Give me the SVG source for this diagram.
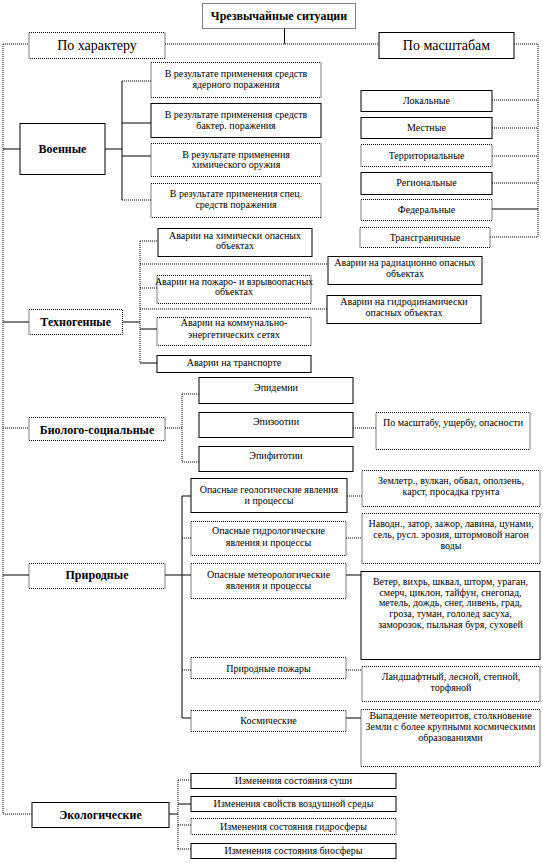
<svg xmlns="http://www.w3.org/2000/svg" width="543" height="863" viewBox="0 0 543 863" font-family="'Liberation Serif', 'Times New Roman', serif">
<style>
text{font-family:"Liberation Serif","Times New Roman",serif;fill:#000;text-anchor:middle}
.t{font-size:10px}
.b{font-size:12px;font-weight:bold}
.h{font-size:14px}
rect{fill:#fff;stroke:#000;stroke-width:1}
rect.d{stroke-dasharray:1 1}
.c line{stroke:#000;stroke-width:1}
.c line.d{stroke-dasharray:1 1}
</style>
<rect x="0" y="0" width="543" height="863" style="stroke:none;fill:#fff"/>
<g class="c" id="connectors">
<line x1="284.5" y1="28" x2="284.5" y2="44"/>
<line class="d" x1="165" y1="44" x2="379" y2="44"/>
<line class="d" x1="3" y1="44" x2="29" y2="44"/>
<line class="d" x1="3" y1="44" x2="3" y2="814"/>
<line class="d" x1="514" y1="44" x2="538" y2="44"/>
<line class="d" x1="538" y1="44" x2="538" y2="237"/>
<line class="d" x1="492" y1="100" x2="538" y2="100"/>
<line class="d" x1="492" y1="128" x2="538" y2="128"/>
<line class="d" x1="492" y1="156" x2="538" y2="156"/>
<line class="d" x1="492" y1="183" x2="538" y2="183"/>
<line x1="492" y1="209" x2="538" y2="209"/>
<line class="d" x1="490" y1="237" x2="538" y2="237"/>
<line x1="3" y1="149" x2="20" y2="149"/>
<line x1="105" y1="149" x2="122" y2="149"/>
<line x1="122" y1="81" x2="122" y2="200"/>
<line class="d" x1="122" y1="81" x2="151" y2="81"/>
<line x1="122" y1="123" x2="151" y2="123"/>
<line x1="122" y1="156" x2="151" y2="156"/>
<line class="d" x1="122" y1="200" x2="151" y2="200"/>
<line x1="3" y1="322" x2="29" y2="322"/>
<line x1="122.5" y1="322" x2="140" y2="322"/>
<line class="d" x1="140" y1="241" x2="140" y2="363"/>
<line class="d" x1="140" y1="241" x2="158" y2="241"/>
<line class="d" x1="140" y1="264" x2="328" y2="264"/>
<line class="d" x1="140" y1="288" x2="157" y2="288"/>
<line class="d" x1="140" y1="309" x2="327" y2="309"/>
<line x1="140" y1="329" x2="157" y2="329"/>
<line x1="140" y1="363" x2="157" y2="363"/>
<line class="d" x1="3" y1="428" x2="29" y2="428"/>
<line class="d" x1="165" y1="428" x2="182" y2="428"/>
<line class="d" x1="182" y1="394" x2="182" y2="462"/>
<line class="d" x1="182" y1="394" x2="199" y2="394"/>
<line class="d" x1="182" y1="462" x2="199" y2="462"/>
<line class="d" x1="353" y1="428" x2="376" y2="428"/>
<line x1="3" y1="575" x2="29" y2="575"/>
<line x1="165" y1="575" x2="191" y2="575"/>
<line x1="182" y1="496" x2="182" y2="718"/>
<line x1="182" y1="496" x2="191" y2="496"/>
<line class="d" x1="182" y1="538" x2="191" y2="538"/>
<line class="d" x1="182" y1="670" x2="191" y2="670"/>
<line x1="182" y1="718" x2="191" y2="718"/>
<line class="d" x1="347" y1="496" x2="362" y2="496"/>
<line class="d" x1="346" y1="538" x2="362" y2="538"/>
<line x1="346" y1="575" x2="361" y2="575"/>
<line class="d" x1="346" y1="670" x2="362" y2="670"/>
<line x1="346" y1="718" x2="361" y2="718"/>
<line class="d" x1="3" y1="814" x2="32" y2="814"/>
<line x1="169" y1="814" x2="178" y2="814"/>
<line class="d" x1="178" y1="780" x2="178" y2="849"/>
<line class="d" x1="178" y1="780" x2="191" y2="780"/>
<line x1="178" y1="804" x2="191" y2="804"/>
<line class="d" x1="178" y1="825" x2="191" y2="825"/>
<line class="d" x1="178" y1="849" x2="191" y2="849"/>
</g>
<g id="n-root"><rect class="d" x="202.5" y="3.5" width="153" height="25"/><text class="b" x="279" y="20">Чрезвычайные ситуации</text></g>
<g id="n-char"><rect class="d" x="29" y="32.5" width="136" height="26"/><text class="h" x="97" y="50">По характеру</text></g>
<g id="n-scale"><rect x="379" y="32.5" width="135" height="26"/><text class="h" x="446.5" y="50">По масштабам</text></g>
<g id="n-mil"><rect x="20" y="123.5" width="85" height="51"/><text class="b" x="62.5" y="153">Военные</text></g>
<g id="n-mil1"><rect class="d" x="151" y="62.5" width="170" height="35"/><text class="t" x="236" y="76.5">В результате применения средств</text><text class="t" x="236" y="87.5">ядерного поражения</text></g>
<g id="n-mil2"><rect x="151" y="103.5" width="170" height="34"/><text class="t" x="236" y="117.5">В результате применения средств</text><text class="t" x="236" y="128.5">бактер. поражения</text></g>
<g id="n-mil3"><rect class="d" x="151" y="143.5" width="170" height="33"/><text class="t" x="236" y="157.5">В результате применения</text><text class="t" x="236" y="167.5">химического оружия</text></g>
<g id="n-mil4"><rect class="d" x="151" y="183.5" width="170" height="34"/><text class="t" x="236" y="196.5">В результате применения спец.</text><text class="t" x="236" y="207.5">средств  поражения</text></g>
<g id="n-loc"><rect x="361" y="90.5" width="131" height="21"/><text class="t" x="426.5" y="103.5">Локальные</text></g>
<g id="n-mest"><rect x="361" y="117.5" width="131" height="21"/><text class="t" x="426.5" y="130.5">Местные</text></g>
<g id="n-terr"><rect class="d" x="361" y="144.5" width="131" height="22"/><text class="t" x="426.5" y="158.5">Территориальные</text></g>
<g id="n-reg"><rect x="361" y="172.5" width="131" height="22"/><text class="t" x="426.5" y="185.5">Региональные</text></g>
<g id="n-fed"><rect class="d" x="361" y="199.5" width="131" height="21"/><text class="t" x="426.5" y="212.5">Федеральные</text></g>
<g id="n-trans"><rect class="d" x="360" y="227.5" width="130" height="20"/><text class="t" x="425" y="240.5">Трансграничные</text></g>
<g id="n-tech"><rect class="d" x="29" y="309.5" width="93.5" height="25"/><text class="b" x="75.7" y="326">Техногенные</text></g>
<g id="n-t1"><rect x="158" y="228.5" width="154" height="28"/><text class="t" x="235" y="238.5">Аварии на химически опасных</text><text class="t" x="235" y="249">объектах</text></g>
<g id="n-t2"><rect x="328" y="256.5" width="154" height="28"/><text class="t" x="405" y="266">Аварии на радиационно опасных</text><text class="t" x="405" y="276.5">объектах</text></g>
<g id="n-t3"><rect class="d" x="157" y="275.5" width="154" height="28"/><text class="t" x="234" y="284.5">Аварии на пожаро- и взрывоопасных</text><text class="t" x="234" y="295">объектах</text></g>
<g id="n-t4"><rect x="327" y="295.5" width="154" height="28"/><text class="t" x="404" y="304.5">Аварии на гидродинамически</text><text class="t" x="404" y="316">опасных объектах</text></g>
<g id="n-t5"><rect class="d" x="157" y="317.5" width="154" height="28"/><text class="t" x="234" y="326">Аварии на коммунально-</text><text class="t" x="234" y="337.5">энергетических сетях</text></g>
<g id="n-t6"><rect x="157" y="355.5" width="154" height="17"/><text class="t" x="234" y="366">Аварии на транспорте</text></g>
<g id="n-bio"><rect class="d" x="29" y="417.5" width="136" height="23"/><text class="b" x="97" y="433.5">Биолого-социальные</text></g>
<g id="n-b1"><rect x="199" y="377.5" width="154" height="26"/><text class="t" x="276" y="391">Эпидемии</text></g>
<g id="n-b2"><rect x="199" y="412.5" width="154" height="25"/><text class="t" x="276" y="425">Эпизоотии</text></g>
<g id="n-b3"><rect x="199" y="446.5" width="154" height="25"/><text class="t" x="276" y="459">Эпифитотии</text></g>
<g id="n-b4"><rect class="d" x="376" y="412.5" width="154" height="37"/><text class="t" x="453" y="426">По масштабу, ущербу, опасности</text></g>
<g id="n-nat"><rect class="d" x="29" y="563.5" width="136" height="25"/><text class="b" x="97" y="579">Природные</text></g>
<g id="n-p1"><rect x="191" y="478.5" width="156" height="34"/><text class="t" x="269" y="492.5">Опасные геологические явления</text><text class="t" x="269" y="503.5">и процессы</text></g>
<g id="n-p2"><rect class="d" x="191" y="521.5" width="155" height="34"/><text class="t" x="268.5" y="534">Опасные гидрологические</text><text class="t" x="268.5" y="546">явления и процессы</text></g>
<g id="n-p3"><rect class="d" x="191" y="563.5" width="155" height="35"/><text class="t" x="268.5" y="577.5">Опасные метеорологические</text><text class="t" x="268.5" y="588.5">явления и процессы</text></g>
<g id="n-p4"><rect class="d" x="191" y="657.5" width="155" height="21"/><text class="t" x="268.5" y="671.5">Природные пожары</text></g>
<g id="n-p5"><rect class="d" x="191" y="710.5" width="155" height="21"/><text class="t" x="268.5" y="723.5">Космические</text></g>
<g id="n-q1"><rect class="d" x="362" y="470.5" width="178" height="36"/><text class="t" x="451" y="483.5">Землетр., вулкан, обвал, оползень,</text><text class="t" x="451" y="494.5">карст, просадка грунта</text></g>
<g id="n-q2"><rect class="d" x="362" y="513.5" width="178" height="50"/><text class="t" x="451" y="527">Наводн., затор, зажор, лавина, цунами,</text><text class="t" x="451" y="538">сель, русл. эрозия, штормовой нагон</text><text class="t" x="451" y="549">воды</text></g>
<g id="n-q3"><rect x="361" y="571.5" width="179" height="88"/><text class="t" x="450.5" y="584.5">Ветер, вихрь, шквал, шторм, ураган,</text><text class="t" x="450.5" y="595.5">смерч, циклон, тайфун, снегопад,</text><text class="t" x="450.5" y="606">метель, дождь, снег, ливень, град,</text><text class="t" x="450.5" y="617">гроза, туман, гололед засуха,</text><text class="t" x="450.5" y="627.5">заморозок, пыльная буря, суховей</text></g>
<g id="n-q4"><rect class="d" x="362" y="666.5" width="178" height="35"/><text class="t" x="451" y="680">Ландшафтный, лесной, степной,</text><text class="t" x="451" y="691">торфяной</text></g>
<g id="n-q5"><rect class="d" x="361" y="709.5" width="179" height="57"/><text class="t" x="450.5" y="718.5">Выпадение метеоритов, столкновение</text><text class="t" x="450.5" y="729.5">Земли с более крупными космическими</text><text class="t" x="450.5" y="740.5">образованиями</text></g>
<g id="n-eco"><rect x="32" y="802.5" width="137" height="25"/><text class="b" x="100.5" y="819">Экологические</text></g>
<g id="n-e1"><rect x="191" y="773.5" width="205" height="15"/><text class="t" x="293.5" y="784">Изменения состояния суши</text></g>
<g id="n-e2"><rect x="191" y="796.5" width="205" height="15"/><text class="t" x="293.5" y="807">Изменения свойств воздушной среды</text></g>
<g id="n-e3"><rect class="d" x="191" y="818.5" width="205" height="16"/><text class="t" x="293.5" y="829.5">Изменения состояния гидросферы</text></g>
<g id="n-e4"><rect x="191" y="843.5" width="205" height="15"/><text class="t" x="293.5" y="854">Изменения состояния биосферы</text></g>
</svg>
